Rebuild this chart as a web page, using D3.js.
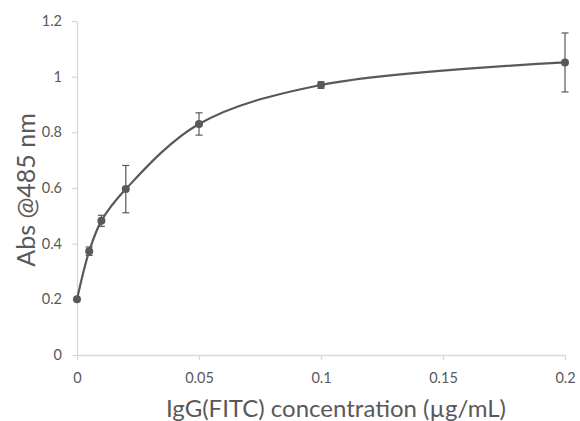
<!DOCTYPE html>
<html><head><meta charset="utf-8">
<script src="https://cdn.jsdelivr.net/npm/d3@7"></script>
<style>body{margin:0;background:#fff}svg{display:block}</style>
</head><body>
<svg id="c" width="580" height="421"></svg>
<script>
const concentrations = [0, 0.005, 0.01, 0.02, 0.05, 0.1, 0.2];
const absorbance = [0.2, 0.373, 0.482, 0.596, 0.83, 0.97, 1.051];
const errors = [0.0, 0.015, 0.02, 0.085, 0.04, 0.012, 0.106];
const xTicks = [0, 0.05, 0.1, 0.15, 0.2];
const yTicks = [0, 0.2, 0.4, 0.6, 0.8, 1, 1.2];
const xTitle = "IgG(FITC) concentration (µg/mL)";
const yTitle = "Abs @485 nm";

const svg = d3.select("#c");
const font = "Lato, 'Open Sans', sans-serif";
const x = d3.scaleLinear().domain([0, 0.2]).range([77, 565]);
const y = d3.scaleLinear().domain([0, 1.2]).range([355, 21]);
const grey = "#595959", axisC = "#d9d9d9";

const xAxis = svg.append("g").attr("transform", `translate(0,${y(0)})`)
  .call(d3.axisBottom(x).tickValues(xTicks).tickFormat(d => String(d)).tickSize(5).tickSizeOuter(0));
const yAxis = svg.append("g").attr("transform", `translate(${x(0)},0)`)
  .call(d3.axisLeft(y).tickValues(yTicks).tickFormat(d => String(d)).tickSize(5).tickSizeOuter(0));
[xAxis, yAxis].forEach(g => {
  g.selectAll("path,line").attr("stroke", axisC).attr("stroke-width", 1.3);
  g.selectAll("text").attr("fill", grey).style("font-family", font).style("font-size", "14.5px");
});
xAxis.selectAll("text").attr("y", 23).attr("dy", "0.35em");
yAxis.selectAll("text").attr("x", -15);

const pts = concentrations.map((c, i) => ({x: c, y: absorbance[i], e: errors[i]}));

const line = d3.line().x(d => x(d.x)).y(d => y(d.y)).curve(d3.curveCatmullRom.alpha(0.5));
svg.append("path").datum(pts).attr("d", line).attr("fill", "none")
  .attr("stroke", grey).attr("stroke-width", 2.2);

const eb = svg.append("g").attr("stroke", grey).attr("stroke-width", 1.2);
pts.filter(d => d.e > 0).forEach(d => {
  eb.append("line").attr("x1", x(d.x)).attr("x2", x(d.x)).attr("y1", y(d.y - d.e)).attr("y2", y(d.y + d.e));
  [d.y - d.e, d.y + d.e].forEach(v => eb.append("line")
    .attr("x1", x(d.x) - 3.5).attr("x2", x(d.x) + 3.5).attr("y1", y(v)).attr("y2", y(v)));
});

svg.append("g").selectAll("circle").data(pts).join("circle")
  .attr("cx", d => x(d.x)).attr("cy", d => y(d.y)).attr("r", 4).attr("fill", grey);

svg.append("text").attr("x", 336).attr("y", 417).attr("text-anchor", "middle")
  .attr("fill", grey).style("font-family", font).style("font-size", "24px").text(xTitle);
svg.append("text").attr("transform", `translate(35,190) rotate(-90)`).attr("text-anchor", "middle")
  .attr("fill", grey).style("font-family", font).style("font-size", "25px").text(yTitle);
</script>
</body></html>
